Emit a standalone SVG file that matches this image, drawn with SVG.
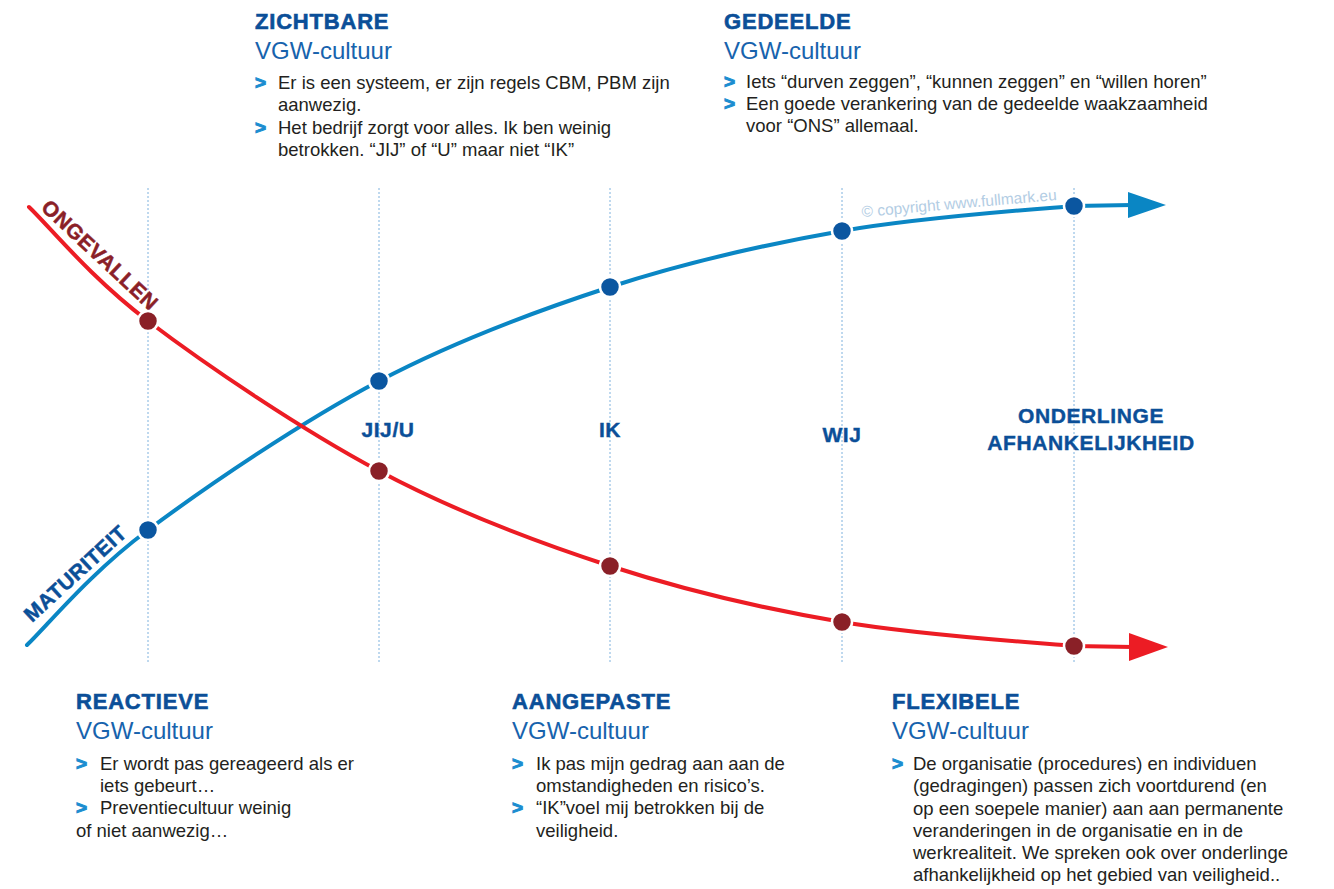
<svg xmlns="http://www.w3.org/2000/svg" width="1334" height="889" viewBox="0 0 1334 889">
<style>
.h{font-family:"Liberation Sans",Arial,sans-serif;font-weight:bold;font-size:22px;fill:#0b4f98;stroke:#0b4f98;stroke-width:0.6px;letter-spacing:0.8px}
.s{font-family:"Liberation Sans",Arial,sans-serif;font-size:24px;fill:#1763ad}
.t{font-family:"Liberation Sans",Arial,sans-serif;font-size:18.5px;fill:#231f20}
.b{font-family:"Liberation Sans",Arial,sans-serif;font-weight:bold;font-size:19px;fill:#1a8dd0;stroke:#1a8dd0;stroke-width:1px}
.lab{font-family:"Liberation Sans",Arial,sans-serif;font-weight:bold;font-size:21px;fill:#0b4f98;stroke:#0b4f98;stroke-width:0.4px;text-anchor:middle;letter-spacing:0.6px}
.cl{font-family:"Liberation Sans",Arial,sans-serif;font-weight:bold;font-size:21px;stroke-width:0.5px}
.guide{stroke:#7fb2de;stroke-width:1;stroke-dasharray:2 2;fill:none}
.blue{stroke:#0a86c4;stroke-width:4;fill:none;stroke-linecap:round}
.red{stroke:#ec1c24;stroke-width:4;fill:none;stroke-linecap:round}
.bd{fill:#0b56a0;stroke:#fff;stroke-width:2.5}
.rd{fill:#8a2027;stroke:#fff;stroke-width:2.5}
</style>
<rect width="1334" height="889" fill="#fff"/>
<g id="guides">
<line class="guide" x1="148" y1="188" x2="148" y2="664"/>
<line class="guide" x1="379" y1="188" x2="379" y2="664"/>
<line class="guide" x1="610" y1="188" x2="610" y2="664"/>
<line class="guide" x1="842" y1="188" x2="842" y2="664"/>
<line class="guide" x1="1074" y1="188" x2="1074" y2="664"/>
</g>
<text id="copyright" transform="translate(862,217) rotate(-5)" font-family="Liberation Sans,Arial,sans-serif" font-size="15.5" fill="#b3cde4">© copyright www.fullmark.eu</text>
<g id="connectors">
<path class="blue" d="M27,645 C47,626 89,574 148,530 C207,486 302,421.5 379,381 C456,340.5 533,312 610,287 C687,262 765,244.5 842,231 C919,217.5 1026,210 1074,206 L1132,205"/>
<polygon fill="#0a86c4" points="1128,192 1166,205 1128,218"/>
<path class="red" d="M29,207 C49,226 90,277 148,321 C206,365 302,430 379,471 C456,512 533,541 610,566 C687,591 765,609 842,622 C919,635 1026,642 1074,646 L1133,647"/>
<polygon fill="#ec1c24" points="1129,633 1168,647 1129,661"/>
</g>
<g id="curve-labels">
<text id="ongevallen" class="cl" transform="translate(40,209) rotate(43)" fill="#8a2027" stroke="#8a2027" textLength="150" lengthAdjust="spacing">ONGEVALLEN</text>
<text id="maturiteit" class="cl" transform="translate(32,623) rotate(-42.5)" fill="#0b4f98" stroke="#0b4f98" textLength="130" lengthAdjust="spacing">MATURITEIT</text>
</g>
<g id="dots">
<g id="m1"><circle class="bd" cx="148" cy="530" r="10"/></g>
<g id="m2"><circle class="bd" cx="379" cy="381" r="10"/></g>
<g id="m3"><circle class="bd" cx="610" cy="287" r="10"/></g>
<g id="m4"><circle class="bd" cx="842" cy="231" r="10"/></g>
<g id="m5"><circle class="bd" cx="1074" cy="206" r="10"/></g>
<g id="o1"><circle class="rd" cx="148" cy="321" r="10"/></g>
<g id="o2"><circle class="rd" cx="379" cy="471" r="10"/></g>
<g id="o3"><circle class="rd" cx="610" cy="566" r="10"/></g>
<g id="o4"><circle class="rd" cx="842" cy="622" r="10"/></g>
<g id="o5"><circle class="rd" cx="1074" cy="646" r="10"/></g>
</g>
<g id="stage-labels">
<text class="lab" x="388" y="437">JIJ/U</text>
<text class="lab" x="610" y="437">IK</text>
<text class="lab" x="842" y="442">WIJ</text>
<text class="lab" x="1091" y="423">ONDERLINGE</text>
<text class="lab" x="1091" y="450">AFHANKELIJKHEID</text>
</g>
<g id="zichtbare">
<text class="h" x="255" y="29">ZICHTBARE</text>
<text class="s" x="255" y="59">VGW-cultuur</text>
<text class="b" x="255" y="89">&gt;</text>
<text class="t" x="278" y="89">Er is een systeem, er zijn regels CBM, PBM zijn</text>
<text class="t" x="278" y="111">aanwezig.</text>
<text class="b" x="255" y="134">&gt;</text>
<text class="t" x="278" y="134">Het bedrijf zorgt voor alles. Ik ben weinig</text>
<text class="t" x="278" y="156">betrokken. “JIJ” of “U” maar niet “IK”</text>
</g>
<g id="gedeelde">
<text class="h" x="724" y="29">GEDEELDE</text>
<text class="s" x="724" y="59">VGW-cultuur</text>
<text class="b" x="724" y="88">&gt;</text>
<text class="t" x="746" y="88">Iets “durven zeggen”, “kunnen zeggen” en “willen horen”</text>
<text class="b" x="724" y="110">&gt;</text>
<text class="t" x="746" y="110">Een goede verankering van de gedeelde waakzaamheid</text>
<text class="t" x="746" y="132">voor “ONS” allemaal.</text>
</g>
<g id="reactieve">
<text class="h" x="76" y="709">REACTIEVE</text>
<text class="s" x="76" y="739">VGW-cultuur</text>
<text class="b" x="76" y="770">&gt;</text>
<text class="t" x="100" y="770">Er wordt pas gereageerd als er</text>
<text class="t" x="100" y="792">iets gebeurt…</text>
<text class="b" x="76" y="814">&gt;</text>
<text class="t" x="100" y="814">Preventiecultuur weinig</text>
<text class="t" x="76" y="837">of niet aanwezig…</text>
</g>
<g id="aangepaste">
<text class="h" x="512" y="709">AANGEPASTE</text>
<text class="s" x="512" y="739">VGW-cultuur</text>
<text class="b" x="512" y="770">&gt;</text>
<text class="t" x="536" y="770">Ik pas mijn gedrag aan aan de</text>
<text class="t" x="536" y="792">omstandigheden en risico’s.</text>
<text class="b" x="512" y="814">&gt;</text>
<text class="t" x="536" y="814">“IK”voel mij betrokken bij de</text>
<text class="t" x="536" y="837">veiligheid.</text>
</g>
<g id="flexibele">
<text class="h" x="892" y="709">FLEXIBELE</text>
<text class="s" x="892" y="739">VGW-cultuur</text>
<text class="b" x="892" y="770">&gt;</text>
<text class="t" x="913" y="770">De organisatie (procedures) en individuen</text>
<text class="t" x="913" y="792">(gedragingen) passen zich voortdurend (en</text>
<text class="t" x="913" y="815">op een soepele manier) aan aan permanente</text>
<text class="t" x="913" y="837">veranderingen in de organisatie en in de</text>
<text class="t" x="913" y="859">werkrealiteit. We spreken ook over onderlinge</text>
<text class="t" x="913" y="881">afhankelijkheid op het gebied van veiligheid..</text>
</g>
</svg>
